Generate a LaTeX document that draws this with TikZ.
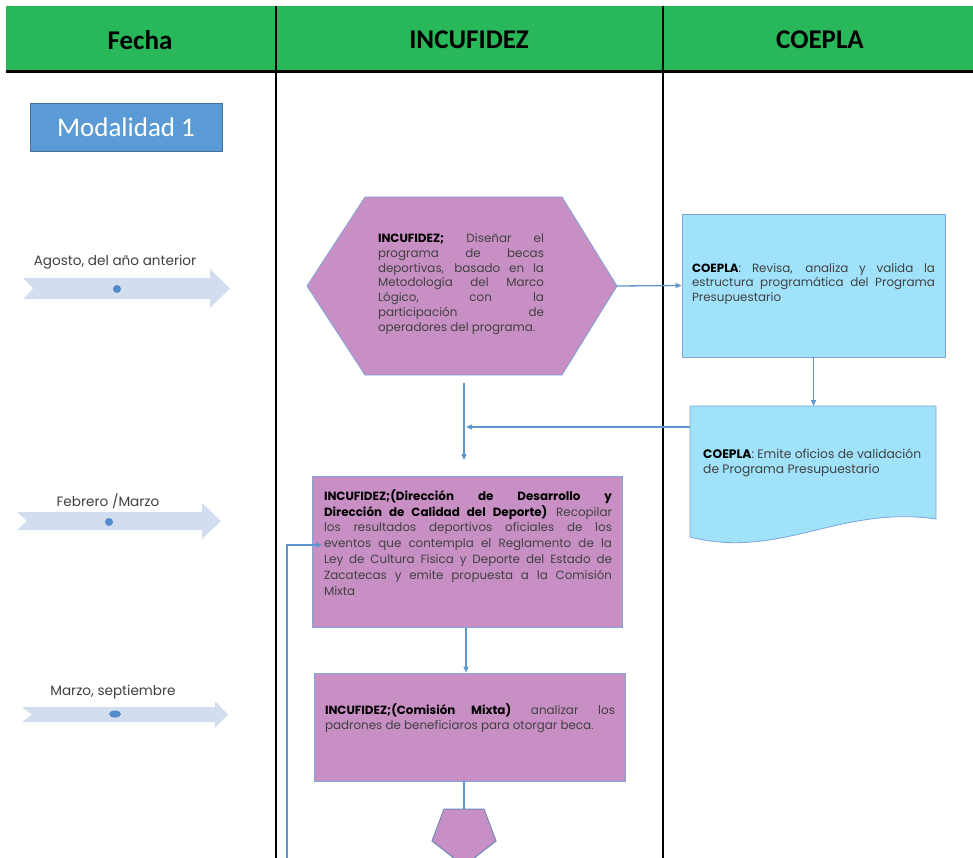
\documentclass[tikz,border=0pt]{standalone}
\usepackage{fontspec}
\setmainfont{Poppins}
\newfontfamily\hdrf{Carlito}
\usetikzlibrary{arrows.meta}
\definecolor{hdrgreen}{RGB}{40,184,90}
\definecolor{mauve}{RGB}{200,143,196}
\definecolor{cyanbox}{RGB}{160,226,250}
\definecolor{boxline}{RGB}{125,165,215}
\definecolor{pentline}{RGB}{115,135,185}
\definecolor{conncol}{RGB}{95,150,205}
\definecolor{tlcol}{RGB}{210,222,240}
\definecolor{dotcol}{RGB}{80,140,205}
\definecolor{modf}{RGB}{91,155,213}
\definecolor{modb}{RGB}{65,113,156}
\definecolor{txtgray}{RGB}{65,65,65}
\newlength\jw
\newcommand\jl[1]{\makebox[\jw][s]{#1}}
\newcommand\bk[1]{\textcolor{black}{\bfseries #1}}
\begin{document}
\begin{tikzpicture}[x=1pt,y=-1pt,
  hdr/.style={font=\hdrf\bfseries\fontsize{27}{30}\selectfont, text=black},
  tllabel/.style={font=\fontsize{13.6}{16}\selectfont, text=txtgray},
  body/.style={font=\fontsize{11.9}{14.7}\selectfont, text=txtgray, align=left, inner sep=0pt},
  conn/.style={draw=conncol, line width=1.3pt, -{Triangle[length=6pt,width=5pt]}},
  plainconn/.style={draw=conncol, line width=1.3pt},
  mbox/.style={draw=boxline, line width=0.8pt, fill=mauve},
  cbox/.style={draw=boxline, line width=0.8pt, fill=cyanbox}]
\useasboundingbox (0,0) rectangle (973,858);
\clip (0,0) rectangle (973,858);
\fill[white] (0,0) rectangle (973,858);

% header
\fill[hdrgreen] (6,6) rectangle (973,72);
\draw[line width=3pt] (6,71.5) -- (973,71.5);
\draw[line width=2pt] (276,6) -- (276,858);
\draw[line width=2pt] (663,6) -- (663,858);
\node[hdr] (hF) at (140,40) {Fecha};
\node[hdr] (hI) at (469,40) {INCUFIDEZ};
\node[hdr] (hC) at (820,40) {COEPLA};

% modalidad
\node[draw=modb, line width=0.8pt, fill=modf, minimum width=192pt, minimum height=48pt,
  text=white, font=\hdrf\fontsize{27}{30}\selectfont] (mod) at (126,127) {Modalidad 1};

% timeline arrows
\fill[tlcol] (23,278) -- (210,278) -- (210,269) -- (230,288.5) -- (210,308) -- (210,299) -- (23,299) -- (33,288.5) -- cycle;
\fill[dotcol] (117,289) circle[radius=4pt];
\node[tllabel] (t1) at (115,262) {Agosto, del año anterior};

\fill[tlcol] (17,512) -- (202,512) -- (202,503) -- (221,521) -- (202,539) -- (202,530) -- (17,530) -- (27,521) -- cycle;
\fill[dotcol] (109,522) circle[radius=4pt];
\node[tllabel] (t2) at (108,501) {Febrero /Marzo};

\fill[tlcol] (22,707) -- (215,707) -- (215,701) -- (228,714.5) -- (215,728) -- (215,722) -- (22,722) -- (32,714.5) -- cycle;
\fill[dotcol] (115,714) ellipse[x radius=6pt, y radius=3.5pt];
\node[tllabel] (t3) at (113,692) {Marzo, septiembre};

% hexagon
\filldraw[mbox] (307,286) -- (365,197) -- (562,197) -- (617,286) -- (562,375) -- (365,375) -- cycle;
\coordinate (hexE) at (617,286);
\coordinate (hexS) at (464,383);
\setlength\jw{166pt}
\node[body] (hext) at (461,284) {%
\jl{\bk{INCUFIDEZ;} Diseñar el}\\
\jl{programa de becas}\\
\jl{deportivas, basado en la}\\
\jl{Metodología del Marco}\\
\jl{Lógico, con la}\\
\jl{participación de}\\
operadores del programa.};

% COEPLA box 1
\node[cbox, minimum width=263pt, minimum height=143pt] (c1) at (813.5,285.5) {};
\setlength\jw{243pt}
\node[body] (c1t) at (813.5,284) {%
\jl{\bk{COEPLA}: Revisa, analiza y valida la}\\
\jl{estructura programática del Programa}\\
Presupuestario};

% document box
\filldraw[cbox] (690,406) -- (936,406) -- (936,519) .. controls (840,505) and (780,560) .. (690,537) -- cycle;
\coordinate (docN) at (813.5,406);
\coordinate (docW) at (690,427);
\node[body, anchor=west, font=\fontsize{12.3}{15}\selectfont] (dt) at (703,462.5) {%
\bk{COEPLA}: Emite oficios de validación\\
de Programa Presupuestario};

% rect 1
\node[mbox, minimum width=310pt, minimum height=151.5pt] (r1) at (467,551.75) {};
\setlength\jw{288pt}
\node[body, font=\fontsize{11.9}{15.9}\selectfont] (r1t) at (468,542.5) {%
\jl{\bk{INCUFIDEZ;(Dirección de Desarrollo y}}\\
\jl{\bk{Dirección de Calidad del Deporte)} Recopilar}\\
\jl{los resultados deportivos oficiales de los}\\
\jl{eventos que contempla el Reglamento de la}\\
\jl{Ley de Cultura Física y Deporte del Estado de}\\
\jl{Zacatecas y emite propuesta a la Comisión}\\
Mixta};

% rect 2
\node[mbox, minimum width=311pt, minimum height=108pt] (r2) at (470,727) {};
\setlength\jw{290pt}
\node[body, font=\fontsize{11.9}{15}\selectfont] (r2t) at (470,718.5) {%
\jl{\bk{INCUFIDEZ;(Comisión Mixta)} analizar los}\\
padrones de beneficiaros para otorgar beca.};

% pentagon
\filldraw[fill=mauve, draw=pentline, line width=1pt] (444,809) -- (484,809) -- (496,841) -- (464,866) -- (432,841) -- cycle;
\coordinate (pentN) at (464,809);

% connectors
\coordinate (j1) at (464,460);
\coordinate (j2) at (466,427);
\coordinate (loopS) at (287,862);
\coordinate (r1in) at (322,545);
\draw[conn] (hexE) -- (c1.west);
\draw[conn] (c1.south) -- (docN);
\draw[conn] (hexS) -- (j1);
\draw[conn] (docW) -- (j2);
\draw[conn] (loopS) |- (r1in);
\draw[conn] (r1.south -| 466,0) -- (r2.north -| 466,0);
\draw[plainconn] (r2.south -| 464,0) -- (pentN);
\end{tikzpicture}
\end{document}
